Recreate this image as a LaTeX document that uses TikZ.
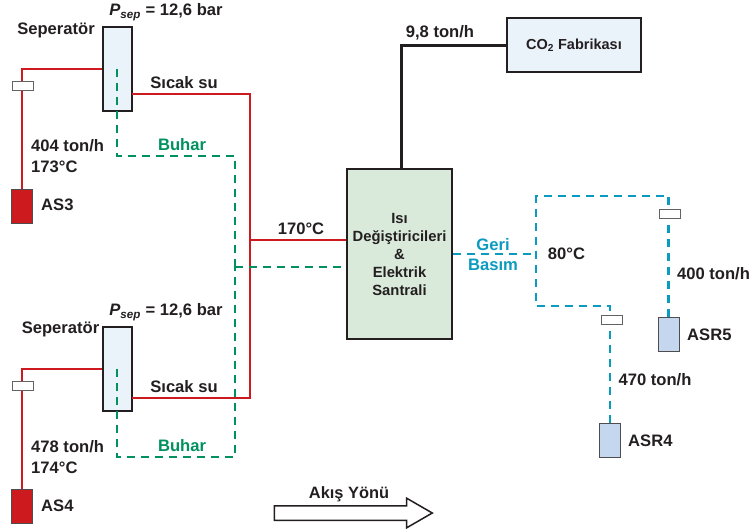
\documentclass[tikz,border=0pt]{standalone}
\usepackage{fontspec}
\setmainfont{Liberation Sans}
\usetikzlibrary{shapes.arrows}

\definecolor{darktext}{HTML}{231F20}
\definecolor{hotred}{HTML}{CC1A1F}
\definecolor{steamgreen}{HTML}{00915F}
\definecolor{backblue}{HTML}{0A9BBF}
\definecolor{palesep}{HTML}{EAF2FA}
\definecolor{palegreen}{HTML}{DAEADA}
\definecolor{palewell}{HTML}{C5D7EF}

\begin{document}
\begin{tikzpicture}[x = 1pt, y = -1pt, font = \fontsize{16.6}{21}\bfseries, text = darktext,
        sepbox/.style = {draw = darktext, line width = 2.2pt, fill = palesep, inner sep = 0pt, minimum width = 29pt, minimum height = 84pt},
        plantbox/.style = {draw = darktext, line width = 2.2pt, inner sep = 0pt},
        hotwell/.style = {draw = darktext!80, line width = 1pt, fill = hotred, inner sep = 0pt, minimum width = 21pt, minimum height = 34pt},
        coldwell/.style = {draw = darktext!80, line width = 1pt, fill = palewell, inner sep = 0pt, minimum width = 21pt, minimum height = 34pt},
        valve/.style = {draw = darktext!70, line width = 1pt, fill = white, inner sep = 0pt, minimum width = 21pt, minimum height = 9pt},
        hotline/.style = {draw = hotred, line width = 2.8pt},
        steamline/.style = {draw = steamgreen, line width = 2.8pt, dash pattern = on 8pt off 6pt},
        backline/.style = {draw = backblue, line width = 2.8pt, dash pattern = on 8pt off 6pt},
        steamlabel/.style = {text = steamgreen},
        backlabel/.style = {text = backblue, align = center}]
            \useasboundingbox (0,0) rectangle (754,530);

            \node [sepbox] (sepa) at (117.5,69) {};
            \node [sepbox] (sepb) at (117.5,369) {};
            \node [hotwell] (asa) at (22,206.5) {};
            \node [hotwell] (asb) at (22,506.5) {};
            \node [coldwell] (asrf) at (668.5,334.5) {};
            \node [coldwell] (asrd) at (610,440.5) {};
            \node [plantbox, fill = palegreen, minimum width = 105pt, minimum height = 170pt, align = center, font = \fontsize{14.8}{18}\bfseries] (heat) at (399.5,254) {Isı\\Değiştiricileri\\\&\\Elektrik\\Santrali};
            \node [plantbox, fill = palesep, minimum width = 134pt, minimum height = 54pt, font = \fontsize{14.5}{18}\bfseries] (co) at (574,45) {CO\textsubscript{2} Fabrikası};

            \coordinate (hota) at (132,94);
            \coordinate (hotb) at (132,398);
            \coordinate (hotc) at (250,240);
            \coordinate (steama) at (117,69);
            \coordinate (steamb) at (117,369);
            \coordinate (steamc) at (235,156);
            \coordinate (steamd) at (235,267);
            \coordinate (backa) at (536,254);
            \coordinate (backb) at (536,196);
            \coordinate (backc) at (536,306);
            \coordinate (powa) at (401,169);

            \draw [hotline] (sepa.west) -| (asa.north);
            \draw [hotline] (sepb.west) -| (asb.north);
            \draw [hotline] (hota) -| (hotc) |- (hotb);
            \draw [hotline] (hotc) -- (heat.west |- hotc);
            \draw [steamline] (steama) |- (steamc) -- (steamd);
            \draw [steamline] (steamb) |- (steamd |- 0,457) -- (steamd);
            \draw [steamline] (steamd) -- (heat.west |- steamd);
            \draw [draw = darktext, line width = 3pt] (powa) |- (co.west);
            \draw [backline] (heat.east) -- (backa);
            \draw [backline] (asrf.north) |- (backb) -- (backc) -| (asrd.north);

            \node [valve] (vala) at (23,85.5) {};
            \node [valve] (valb) at (23,385.5) {};
            \node [valve] (valf) at (669.5,213.5) {};
            \node [valve] (vald) at (611.5,319.5) {};

            \node (psepa) at (166,12) {\textit{P\textsubscript{sep}} = 12,6 bar};
            \node (psepb) at (166,312) {\textit{P\textsubscript{sep}} = 12,6 bar};
            \node (nama) at (56,30) {Seperatör};
            \node (namb) at (60.5,329) {Seperatör};
            \node (wata) at (184,83) {Sıcak su};
            \node (watb) at (184,387) {Sıcak su};
            \node [steamlabel] (buha) at (182,145) {Buhar};
            \node [steamlabel] (buhb) at (182,446) {Buhar};
            \node [anchor = west, align = left, inner sep = 0pt] (flowa) at (31,156) {404 ton/h\\173°C};
            \node [anchor = west, align = left, inner sep = 0pt] (flowb) at (31,457) {478 ton/h\\174°C};
            \node [anchor = west, inner sep = 0pt] (labela) at (41,205) {AS3};
            \node [anchor = west, inner sep = 0pt] (labelb) at (41,506) {AS4};
            \node (flowc) at (440,33) {9,8 ton/h};
            \node (tempa) at (301,229) {170°C};
            \node [backlabel, font = \fontsize{16.6}{20}\bfseries] (geri) at (493,255) {Geri\\Basım};
            \node (tempb) at (566.5,254) {80°C};
            \node (flowf) at (713.5,274) {400 ton/h};
            \node (flowd) at (655,380) {470 ton/h};
            \node [anchor = west, inner sep = 0pt] (labelf) at (687,335) {ASR5};
            \node [anchor = west, inner sep = 0pt] (labeld) at (628,441) {ASR4};

            \node [draw = darktext, line width = 1.5pt, fill = white, single arrow, inner sep = 0pt, text height = 13pt, text depth = 0pt, minimum height = 158pt, single arrow head extend = 7.5pt, single arrow tip angle = 60] (flowdir) at (347,513) {};
            \node [font = \fontsize{16.4}{18}\bfseries] (flowtext) at (349,494) {Akış Yönü};
        \end{tikzpicture}
\end{document}
